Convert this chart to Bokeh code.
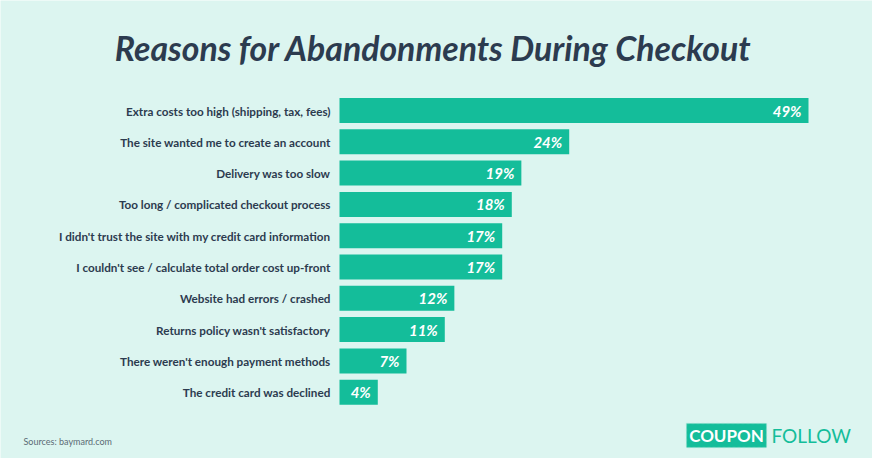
from bokeh.plotting import figure
from bokeh.models import Range1d, ColumnDataSource, Label, BoxAnnotation
from bokeh.core.properties import value
from bokeh.embed import file_html
from bokeh.resources import INLINE

# Survey results: reasons shoppers abandon a checkout (percent of respondents)
reasons = [
    "Extra costs too high (shipping, tax, fees)",
    "The site wanted me to create an account",
    "Delivery was too slow",
    "Too long / complicated checkout process",
    "I didn't trust the site with my credit card information",
    "I couldn't see / calculate total order cost up-front",
    "Website had errors / crashed",
    "Returns policy wasn't satisfactory",
    "There weren't enough payment methods",
    "The credit card was declined",
]
percents = [49, 24, 19, 18, 17, 17, 12, 11, 7, 4]

BG = "#dcf5f0"
TEAL = "#14bd9a"
NAVY = "#2c3b4f"

W, H = 872, 458
left_px, right_px = 339, 808          # pixel span for 0 .. max value
px_per_unit = (right_px - left_px) / max(percents)
x_start = -left_px / px_per_unit
x_end = x_start + W / px_per_unit

row0_px, row_step = 110, 31.3         # centre of first row and row pitch
y_top = -row0_px / row_step
y_bottom = (H - row0_px) / row_step

src = ColumnDataSource(dict(
    row=list(range(len(reasons))),
    reason=reasons,
    pct=percents,
    label=[f"{v}%" for v in percents],
))

p = figure(width=W, height=H, output_backend="svg", toolbar_location=None,
           x_range=Range1d(x_start, x_end), y_range=Range1d(y_bottom, y_top),
           x_axis_location=None, y_axis_location=None, min_border=0,
           background_fill_color=BG, border_fill_color=BG, outline_line_color=None)
p.grid.visible = False

p.hbar(y="row", left=0, right="pct", height=0.8, source=src,
       fill_color=TEAL, line_color=None)

p.text(x=0, y="row", text="reason", source=src, x_offset=-9,
       text_align="right", text_baseline="middle",
       text_font=value("Lato"), text_font_style="bold",
       text_font_size="11.7px", text_color=NAVY)

p.text(x="pct", y="row", text="label", source=src, x_offset=-7,
       text_align="right", text_baseline="middle",
       text_font=value("Lato"), text_font_style="bold italic",
       text_font_size="15px", text_color="white")

p.add_layout(Label(x=W / 2 - 3, y=H - 47, x_units="screen", y_units="screen",
                   text="Reasons for Abandonments During Checkout",
                   text_align="center", text_baseline="middle",
                   text_font="Lato", text_font_style="bold italic",
                   text_font_size="33.8px", text_color=NAVY))

p.add_layout(Label(x=23, y=H - 441, x_units="screen", y_units="screen",
                   text="Sources: baymard.com", text_align="left",
                   text_baseline="middle", text_font="Lato",
                   text_font_size="9px", text_color="#5b6b75"))

# Brand mark in the lower right corner
p.add_layout(BoxAnnotation(left=686, right=766, top=H - 423, bottom=H - 447,
                           left_units="screen", right_units="screen",
                           top_units="screen", bottom_units="screen",
                           fill_color=TEAL, fill_alpha=1.0,
                           line_color="#8fdfcb", line_width=1.5, line_dash="3 2"))
p.add_layout(Label(x=726, y=H - 435, x_units="screen", y_units="screen",
                   text="COUPON", text_align="center", text_baseline="middle",
                   text_font="Lato", text_font_style="bold",
                   text_font_size="17px", text_color="white"))
p.add_layout(Label(x=771, y=H - 435, x_units="screen", y_units="screen",
                   text="FOLLOW", text_align="left", text_baseline="middle",
                   text_font="Lato", text_font_size="19px", text_color=TEAL))

open("out.html", "w").write(file_html(p, INLINE))
